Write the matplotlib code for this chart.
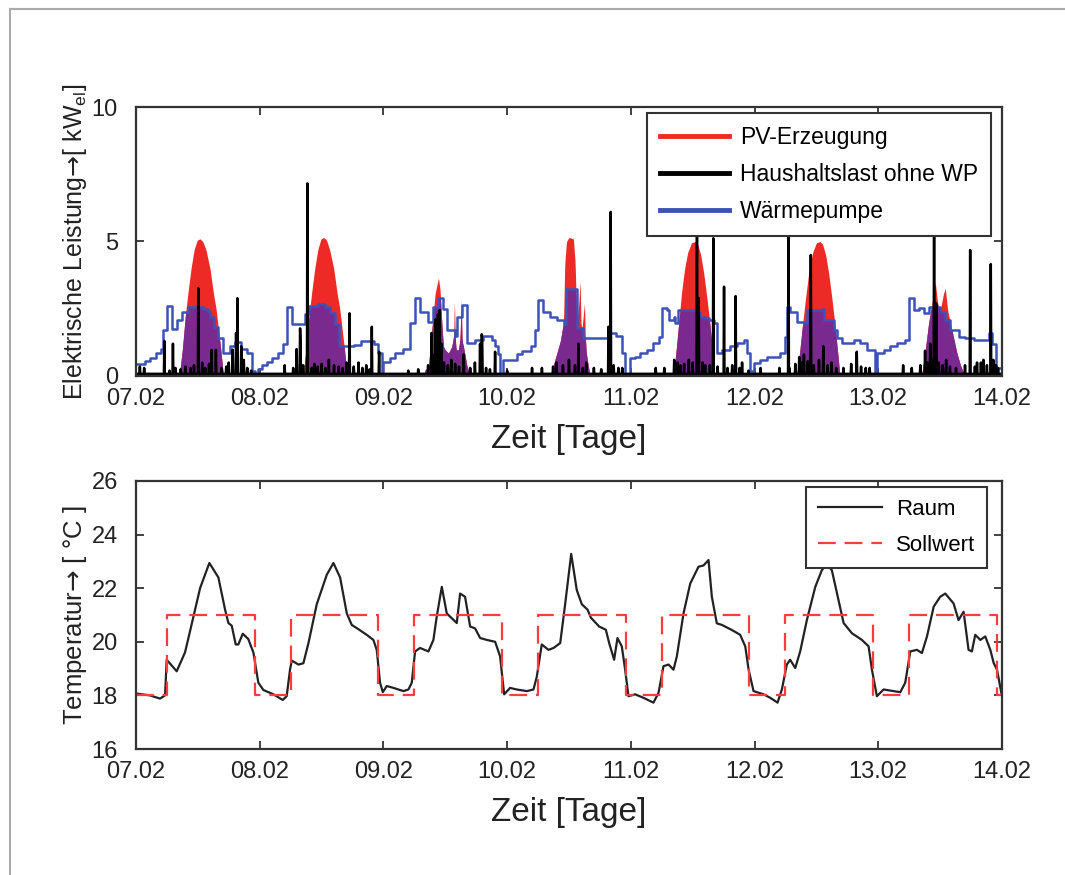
import numpy as np
import matplotlib
matplotlib.use('Agg')
import matplotlib.pyplot as plt
from matplotlib.lines import Line2D

plt.rcParams['font.family'] = ['Liberation Sans', 'DejaVu Sans']
plt.rcParams['mathtext.fontset'] = 'custom'
plt.rcParams['mathtext.rm'] = 'Liberation Sans'
plt.rcParams['mathtext.it'] = 'Liberation Sans:italic'
plt.rcParams['mathtext.sf'] = 'DejaVu Sans'

# time axis: days since 07.02 00:00
day_ticks = [0, 1, 2, 3, 4, 5, 6, 7]
day_labels = ['07.02', '08.02', '09.02', '10.02', '11.02', '12.02', '13.02', '14.02']

# PV-Erzeugung [kW]
pv_t = [0.0,
        0.35, 0.375, 0.40, 0.42, 0.445, 0.47, 0.495, 0.517, 0.54, 0.565, 0.598, 0.625, 0.647, 0.665, 0.685, 0.70, 0.71,
        1.35, 1.375, 1.40, 1.42, 1.445, 1.47, 1.495, 1.52, 1.54, 1.565, 1.598, 1.625, 1.647, 1.665, 1.685, 1.70, 1.71,
        2.32, 2.337, 2.364, 2.391, 2.418, 2.445, 2.458, 2.472, 2.485, 2.499, 2.526, 2.553, 2.568, 2.574, 2.581, 2.588,
        2.606, 2.62, 2.628, 2.636, 2.647, 2.674, 2.701,
        3.34, 3.361, 3.402, 3.43, 3.456, 3.466, 3.48, 3.50, 3.536, 3.55, 3.563, 3.578, 3.59, 3.597, 3.604, 3.625,
        3.632, 3.639, 3.655, 3.671,
        4.344, 4.365, 4.39, 4.41, 4.435, 4.46, 4.49, 4.519, 4.54, 4.565, 4.59, 4.615, 4.635, 4.655, 4.67, 4.68,
        5.341, 5.365, 5.39, 5.415, 5.44, 5.47, 5.50, 5.529, 5.55, 5.575, 5.60, 5.625, 5.645, 5.665, 5.68, 5.69,
        6.34, 6.353, 6.38, 6.407, 6.434, 6.461, 6.48, 6.501, 6.528, 6.542, 6.561, 6.596, 6.636, 6.668, 6.704,
        7.0]
pv_kw = [0.0,
         0.0, 1.0, 2.3, 3.1, 4.0, 4.7, 5.05, 5.1, 5.0, 4.7, 4.0, 3.1, 2.5, 1.8, 1.0, 0.3, 0.0,
         0.0, 1.0, 2.3, 3.1, 4.0, 4.7, 5.1, 5.15, 5.05, 4.7, 4.0, 3.1, 2.5, 1.8, 1.0, 0.3, 0.0,
         0.0, 0.22, 0.35, 1.7, 3.07, 3.65, 3.2, 1.96, 1.1, 0.97, 0.85, 1.1, 1.5, 2.95, 1.4, 0.97,
         0.97, 1.4, 2.95, 1.3, 1.1, 0.4, 0.0,
         0.0, 0.2, 0.85, 1.3, 2.0, 4.2, 5.0, 5.15, 5.1, 4.2, 1.96, 2.6, 3.57, 2.0, 1.7, 2.7,
         1.5, 0.9, 0.4, 0.0,
         0.0, 0.9, 2.1, 3.1, 4.0, 4.6, 4.95, 5.0, 4.9, 4.5, 3.8, 2.9, 2.1, 1.2, 0.5, 0.0,
         0.0, 0.9, 2.0, 3.0, 3.9, 4.6, 4.95, 5.0, 4.9, 4.5, 3.8, 2.9, 2.1, 1.2, 0.5, 0.0,
         0.0, 0.1, 0.97, 1.96, 2.7, 3.5, 2.7, 2.45, 3.07, 3.26, 2.45, 1.7, 0.85, 0.35, 0.0,
         0.0]

# Waermepumpe [kW] (step, value holds until next time)
wp_t = [0.0, 0.07, 0.11, 0.16, 0.20, 0.22, 0.248, 0.29, 0.33, 0.37, 0.42, 0.54, 0.58, 0.60, 0.63, 0.665,
        0.70, 0.76, 0.80, 0.85, 0.90, 0.935, 0.96, 0.985,
        1.02, 1.06, 1.10, 1.15, 1.19, 1.22, 1.26, 1.37, 1.40, 1.47, 1.53, 1.57, 1.61, 1.64, 1.76, 1.82,
        1.92, 1.96, 1.985,
        2.00, 2.05, 2.09, 2.16, 2.215, 2.256, 2.296, 2.364, 2.404, 2.444, 2.485, 2.512, 2.579, 2.593,
        2.633, 2.674, 2.741, 2.808, 2.875, 2.902, 2.929, 2.943, 2.97,
        3.078, 3.12, 3.19, 3.226, 3.253, 3.294, 3.348, 3.402, 3.456, 3.475, 3.563, 3.617, 3.833, 3.884,
        3.927, 3.954, 3.995,
        4.035, 4.075, 4.129, 4.183, 4.224, 4.251, 4.29, 4.305, 4.345, 4.358, 4.385, 4.534, 4.561, 4.601,
        4.628, 4.669, 4.695, 4.736, 4.803, 4.857, 4.911, 4.938, 4.965, 4.992,
        5.046, 5.10, 5.208, 5.248, 5.261, 5.288, 5.342, 5.396, 5.423, 5.544, 5.558, 5.639, 5.666, 5.706,
        5.801, 5.855, 5.908, 5.976, 5.989,
        6.043, 6.097, 6.151, 6.218, 6.245, 6.286, 6.326, 6.367, 6.407, 6.501, 6.542, 6.582, 6.649, 6.704,
        6.771, 6.892, 6.919, 6.95]
wp_kw = [0.45, 0.55, 0.67, 0.86, 1.0, 1.7, 2.6, 1.75, 2.08, 2.39, 2.58, 2.5, 2.4, 2.18, 1.83, 1.4,
         0.86, 1.1, 1.27, 1.0, 0.85, 0.2, 0.0, 0.25,
         0.4, 0.53, 0.67, 0.86, 1.2, 2.55, 1.95, 2.3, 2.6, 2.66, 2.55, 2.33, 1.95, 1.1, 1.15, 1.3,
         1.2, 0.84, 0.0,
         0.53, 0.67, 0.86, 1.0, 1.97, 2.9, 2.39, 2.0, 2.58, 2.9, 2.5, 1.7, 1.47, 2.2,
         2.64, 1.22, 1.34, 1.47, 1.34, 1.1, 0.8, 0.0, 0.6,
         0.8, 0.93, 1.1, 1.7, 2.83, 2.39, 2.2, 2.08, 1.95, 3.25, 1.8, 1.4, 1.6, 1.5,
         0.84, 0.0, 0.66,
         0.72, 0.84, 0.97, 1.22, 1.46, 2.52, 2.45, 2.08, 2.2, 1.96, 2.45, 2.39, 2.2, 2.14,
         2.08, 1.96, 0.84, 0.97, 1.1, 1.22, 1.34, 0.84, 0.2, 0.47,
         0.6, 0.72, 0.84, 1.46, 2.58, 2.39, 2.02, 1.96, 2.45, 2.5, 2.08, 1.71, 1.4, 1.22,
         1.34, 1.22, 0.97, 0.0, 0.84,
         0.97, 1.1, 1.22, 1.34, 2.89, 2.45, 2.52, 2.33, 2.58, 2.39, 2.08, 1.71, 1.46, 1.40,
         1.34, 1.59, 1.2, 0.3]

# Haushaltslast ohne WP [kW], peaks over a small base load
load_base = 0.08
load_t = [0.03, 0.065, 0.23, 0.27, 0.30, 0.32, 0.36, 0.40, 0.44, 0.47, 0.504, 0.535, 0.56, 0.59, 0.612,
          0.647, 0.69, 0.73, 0.75, 0.78, 0.81, 0.819, 0.85, 0.87, 0.90, 0.93,
          1.20, 1.27, 1.30, 1.326, 1.33, 1.35, 1.385, 1.42, 1.44, 1.47, 1.50, 1.53, 1.56, 1.60, 1.64,
          1.67, 1.70, 1.725, 1.76, 1.80, 1.83, 1.86, 1.89, 1.905, 1.967,
          2.20, 2.28, 2.36, 2.39, 2.41, 2.42, 2.43, 2.44, 2.455, 2.47, 2.49, 2.52, 2.55, 2.58, 2.61,
          2.65, 2.70, 2.74, 2.78, 2.795, 2.80, 2.83, 2.86, 2.902,
          3.00, 3.20, 3.28, 3.37, 3.40, 3.45, 3.50, 3.55, 3.577, 3.61, 3.64, 3.70, 3.76, 3.82, 3.838,
          3.86, 3.90, 3.93,
          4.20, 4.27, 4.35, 4.38, 4.40, 4.43, 4.47, 4.50, 4.533, 4.55, 4.58, 4.60, 4.64, 4.667, 4.70,
          4.753, 4.78, 4.82, 4.848, 4.88, 4.90, 4.95,
          5.05, 5.20, 5.273, 5.28, 5.33, 5.36, 5.38, 5.40, 5.43, 5.454, 5.48, 5.52, 5.557, 5.59, 5.62,
          5.66, 5.72, 5.78, 5.826, 5.86, 5.90, 5.93,
          6.20, 6.27, 6.34, 6.378, 6.40, 6.42, 6.44, 6.451, 6.47, 6.49, 6.52, 6.55, 6.58, 6.63, 6.70,
          6.742, 6.78, 6.80, 6.83, 6.85, 6.88, 6.909, 6.93, 6.95, 6.97]
load_kw = [0.35, 0.3, 1.3, 0.2, 1.2, 0.3, 0.25, 0.35, 0.3, 0.4, 3.26, 0.5, 0.3, 0.45, 0.97,
           0.97, 0.3, 0.35, 0.5, 0.98, 1.6, 2.89, 1.1, 0.6, 0.3, 0.2,
           0.4, 0.3, 1.0, 1.77, 1.3, 0.4, 7.16, 0.3, 0.45, 0.35, 0.45, 0.3, 0.6, 0.4, 0.35,
           0.3, 0.5, 2.33, 0.35, 0.5, 0.3, 0.4, 0.25, 1.83, 0.9,
           0.2, 0.25, 0.4, 1.6, 0.8, 2.1, 1.0, 2.3, 2.45, 1.2, 0.5, 0.4, 0.6, 0.45, 0.35,
           0.8, 0.3, 0.5, 1.2, 1.55, 1.3, 0.3, 0.25, 0.9,
           0.2, 0.3, 0.3, 0.35, 0.5, 0.4, 0.6, 0.4, 1.2, 0.3, 0.5, 0.3, 0.25, 1.83, 6.1,
           0.4, 0.3, 0.3,
           0.3, 0.3, 0.6, 0.5, 0.4, 0.45, 0.6, 0.5, 6.0, 2.9, 0.5, 0.4, 0.4, 5.12, 0.35,
           3.32, 0.3, 0.4, 2.97, 0.3, 0.5, 0.2,
           0.3, 0.3, 6.0, 0.3, 0.45, 0.7, 0.5, 0.8, 0.55, 4.5, 0.4, 0.6, 1.1, 0.4, 0.5,
           0.3, 0.3, 0.45, 0.9, 0.35, 0.3, 0.3,
           0.4, 0.3, 0.4, 0.94, 0.5, 1.2, 0.6, 6.0, 2.7, 0.5, 0.4, 0.6, 0.35, 0.3, 0.4,
           4.68, 0.35, 0.5, 0.5, 0.6, 0.4, 4.16, 0.6, 0.4, 0.3]

# Raumtemperatur [degC]
raum_t = [0.000, 0.113, 0.194, 0.235, 0.248, 0.329, 0.396, 0.437, 0.518, 0.593, 0.666, 0.720, 0.747,
          0.774, 0.806, 0.827, 0.863, 0.908, 0.949, 0.989, 1.030, 1.111, 1.186, 1.218, 1.245, 1.259,
          1.313, 1.353, 1.394, 1.461, 1.542, 1.596, 1.650, 1.704, 1.744, 1.798, 1.865, 1.919, 1.946,
          1.973, 1.995, 2.027, 2.081, 2.162, 2.202, 2.229, 2.256, 2.296, 2.364, 2.404, 2.431, 2.472,
          2.512, 2.593, 2.620, 2.660, 2.701, 2.741, 2.782, 2.836, 2.903, 2.943, 2.976, 3.024, 3.078,
          3.159, 3.213, 3.240, 3.280, 3.334, 3.375, 3.429, 3.469, 3.518, 3.563, 3.604, 3.650, 3.677,
          3.744, 3.798, 3.825, 3.865, 3.892, 3.927, 3.954, 3.981, 4.035, 4.102, 4.183, 4.224, 4.264,
          4.305, 4.345, 4.372, 4.426, 4.480, 4.547, 4.588, 4.628, 4.655, 4.695, 4.736, 4.817, 4.884,
          4.925, 4.952, 4.992, 5.073, 5.127, 5.186, 5.221, 5.261, 5.288, 5.329, 5.369, 5.423, 5.491,
          5.544, 5.585, 5.625, 5.679, 5.720, 5.787, 5.868, 5.922, 5.949, 5.989, 6.043, 6.124, 6.178,
          6.218, 6.259, 6.313, 6.353, 6.394, 6.448, 6.501, 6.542, 6.609, 6.649, 6.690, 6.730, 6.757,
          6.784, 6.825, 6.865, 6.906, 6.933, 6.960, 6.995]
raum_c = [18.07, 18.0, 17.88, 18.0, 19.33, 18.9, 19.6, 20.4, 22.0, 22.94, 22.4, 21.2, 20.7,
          20.6, 19.9, 19.9, 20.3, 20.1, 19.6, 18.47, 18.2, 18.04, 17.83, 17.97, 18.96, 19.3,
          19.15, 19.2, 19.95, 21.4, 22.5, 22.94, 22.4, 21.06, 20.63, 20.47, 20.26, 20.07, 19.7,
          18.47, 18.12, 18.35, 18.28, 18.16, 18.22, 18.47, 19.64, 19.77, 19.64, 20.07, 20.94, 22.05,
          21.06, 20.7, 21.8, 21.68, 20.57, 20.5, 20.14, 20.07, 20.0, 19.46, 18.04, 18.28, 18.22,
          18.16, 18.22, 18.7, 19.9, 19.7, 19.77, 19.95, 21.4, 23.28, 21.93, 21.4, 21.2, 20.9,
          20.57, 20.45, 19.95, 19.33, 20.14, 19.83, 18.96, 17.97, 18.04, 17.91, 17.73, 18.1, 19.09,
          19.15, 18.96, 19.46, 21.06, 22.17, 22.8, 22.85, 23.05, 21.68, 20.69, 20.63, 20.44, 20.26,
          19.83, 18.96, 18.16, 18.04, 17.91, 17.73, 18.22, 19.15, 19.33, 19.02, 19.64, 20.81, 22.05,
          22.67, 22.9, 22.67, 21.56, 20.7, 20.32, 20.07, 19.83, 18.96, 17.97, 18.22, 18.16, 18.12,
          18.47, 19.64, 19.7, 19.58, 20.2, 21.31, 21.68, 21.8, 21.43, 20.81, 21.12, 19.7, 19.64,
          20.26, 20.07, 20.2, 19.7, 19.21, 18.96, 18.1]

# Sollwert [degC] (step)
soll_t = [0.0, 0.25, 0.958, 1.25, 1.958, 2.25, 2.958, 3.25, 3.958, 4.25, 4.958, 5.25, 5.958,
          6.25, 6.958, 7.0]
soll_c = [18, 21, 18, 21, 18, 21, 18, 21, 18, 21, 18, 21, 18, 21, 18, 18]

RED = '#ee2a26'
PURPLE = '#7a2a8e'
BLUE = '#3c52b8'
AXC = '#333333'
TXT = '#222222'

# evaluate series on a 5 minute grid
grid = np.linspace(0, 7, 7 * 24 * 12 + 1)
pv_grid = np.interp(grid, pv_t, pv_kw)
idx = np.clip(np.searchsorted(wp_t, grid, side='right') - 1, 0, len(wp_kw) - 1)
wp_grid = np.array(wp_kw)[idx]
own_grid = np.minimum(pv_grid, wp_grid)
load_grid = np.full(grid.shape, load_base)
for t, v in zip(load_t, load_kw):
    load_grid[int(round(t * 24 * 12))] = v

fig = plt.figure(figsize=(10.65, 8.75), dpi=100)
ax1 = fig.add_axes([0.1277, 0.5703, 0.8131, 0.3074])
ax2 = fig.add_axes([0.1277, 0.1440, 0.8131, 0.3063])

# --- oben: elektrische Leistung
ax1.fill_between(grid, 0, pv_grid, color=RED, lw=0, zorder=1)
ax1.fill_between(grid, 0, own_grid, color=PURPLE, lw=0, zorder=2)
ax1.step(wp_t + [7.0], wp_kw + [wp_kw[-1]], where='post', color=BLUE, lw=1.8, zorder=3)
ax1.plot(grid, load_grid, color='black', lw=1.8, zorder=4)
ax1.set_ylim(0, 10)
ax1.set_yticks([0, 5, 10])
ax1.set_ylabel('Elektrische Leistung$\\mathsf{→}$[ kW$_{\\mathrm{el}}$]', fontsize=18,
               color=TXT, labelpad=2)

handles1 = [Line2D([], [], color=RED, lw=3.5),
            Line2D([], [], color='black', lw=3.5),
            Line2D([], [], color=BLUE, lw=3.5)]
leg1 = ax1.legend(handles1, ['PV-Erzeugung', 'Haushaltslast ohne WP', 'Wärmepumpe'],
                  loc='upper right', bbox_to_anchor=(0.987, 0.978), borderaxespad=0,
                  fontsize=16.5, handlelength=3.0, labelspacing=0.62, fancybox=False,
                  framealpha=1, edgecolor=AXC, borderpad=0.55, handletextpad=0.5)
leg1.get_frame().set_linewidth(1.5)
leg1.set_zorder(10)

# --- unten: Temperatur
ax2.plot(raum_t, raum_c, color='#222222', lw=1.6, label='Raum')
ax2.step(soll_t, soll_c, where='post', color='#ff3b3b', lw=1.6, dashes=(8, 4), label='Sollwert')
ax2.set_ylim(16, 26)
ax2.set_yticks([16, 18, 20, 22, 24, 26])
ax2.set_ylabel('Temperatur$\\mathsf{→}$ [ °C ]', fontsize=18.5, color=TXT, labelpad=2)
leg2 = ax2.legend(loc='upper right', bbox_to_anchor=(0.983, 0.978), borderaxespad=0,
                  fontsize=16, handlelength=2.9, labelspacing=0.68, fancybox=False,
                  framealpha=1, edgecolor=AXC, borderpad=0.55, handletextpad=0.6)
leg2.get_frame().set_linewidth(1.5)
leg2.set_zorder(10)

for ax in (ax1, ax2):
    ax.set_xlim(0, 7)
    ax.set_xticks(day_ticks)
    ax.set_xticklabels(day_labels)
    ax.set_xlabel('Zeit [Tage]', fontsize=24, color=TXT, labelpad=10)
    ax.tick_params(direction='in', top=True, right=True, length=6, width=1.3,
                   labelsize=17, color=AXC, labelcolor=TXT)
    ax.tick_params(axis='x', pad=9)
    ax.tick_params(axis='y', pad=13)
    for sp in ax.spines.values():
        sp.set_color(AXC)
        sp.set_linewidth(1.6)
        sp.set_zorder(11)

# Rahmen der Abbildung
fig.add_artist(Line2D([10 / 1065, 1], [1 - 9 / 875, 1 - 9 / 875], transform=fig.transFigure,
                      color='#aaaaaa', lw=1.5))
fig.add_artist(Line2D([10 / 1065, 10 / 1065], [0, 1 - 9 / 875], transform=fig.transFigure,
                      color='#aaaaaa', lw=1.5))

fig.savefig('out.png', dpi=100)
